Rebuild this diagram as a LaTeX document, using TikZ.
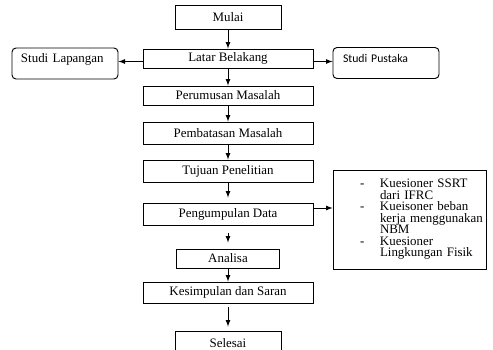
\documentclass[tikz,border=0pt]{standalone}
\usepackage{fontspec}
\setmainfont{Liberation Serif}
\newfontfamily\calib{Carlito}
\usetikzlibrary{arrows}
\newdimen\pxu \pxu=0.75pt
\newcommand{\butir}{\hspace*{25\pxu}\makebox[20\pxu][l]{-}}
\newcommand{\lanjut}{\hspace*{45\pxu}}
\newcommand{\rapat}{\fontsize{9.7pt}{8.6pt}\selectfont\lineskiplimit=-20pt\hyphenpenalty=10000\relax}

\begin{document}
\begin{tikzpicture}[x=0.75pt,y=-0.75pt,>=latex,
   every node/.style={font=\fontsize{9.7pt}{11pt}\selectfont},
   kotak/.style={draw,line width=0.7pt,minimum width=170\pxu,minimum height=22\pxu,inner sep=0pt},
   kecil/.style={kotak,minimum width=106\pxu},
   studi/.style={draw,line width=0.7pt,rounded corners=3pt,minimum width=106\pxu,minimum height=31\pxu,
                 text width=88\pxu,inner xsep=9\pxu,align=left,text depth=10\pxu},
   panah/.style={->,line width=0.7pt}]
   \useasboundingbox (0,0) rectangle (493,350);
   % alur utama
   \node[kecil] (mulai) at (228, 17) [minimum height=24\pxu] {Mulai};
   \node[kotak] (latar) at (228, 58.5) [minimum height=19\pxu] {Latar Belakang};
   \node[kotak] (rumus) at (228, 95.5) [minimum height=19\pxu] {Perumusan Masalah};
   \node[kotak] (batas) at (228,133) {Pembatasan Masalah};
   \node[kotak] (tujuan) at (228,171) {Tujuan Penelitian};
   \node[kotak] (data) at (228,214) {Pengumpulan Data};
   \node[kecil] (analisa) at (228,258.5) [minimum width=103\pxu,minimum height=19\pxu] {Analisa};
   \node[kotak] (simpul) at (228,292.5) [minimum height=21\pxu] {Kesimpulan dan Saran};
   \node[kecil] (selesai) at (228,343) [minimum height=24\pxu] {Selesai};
   % samping
   \node[studi] (lapangan) at (65,63.5) {Studi Lapangan};
   \node[studi] (pustaka) at (386,63) [inner xsep=10\pxu,text width=86\pxu,
      font=\calib\fontsize{8.8pt}{11pt}\selectfont] {Studi Pustaka};
   \node[kotak,minimum width=153\pxu,minimum height=99\pxu,text width=149\pxu,inner xsep=2\pxu,align=left,
      font=\rapat] (daftar) at (409.5,219.5)
      {\butir Kuesioner SSRT\\ \lanjut dari IFRC\\ \butir Kueisoner beban\\ \lanjut kerja menggunakan\\
       \lanjut NBM\\ \butir Kuesioner\\ \lanjut Lingkungan Fisik};
   % panah
   \draw[panah] (mulai) -- (latar);
   \draw[panah] (latar) -- (rumus);
   \draw[panah] (rumus) -- (batas);
   \draw[panah] (batas) -- (tujuan);
   \draw[panah,shorten >=5\pxu] (tujuan) -- (data);
   \draw[panah,shorten <=8\pxu,shorten >=6\pxu] (data) -- (analisa);
   \draw[panah] (analisa) -- (simpul);
   \draw[panah,shorten <=4\pxu,shorten >=4\pxu] (simpul) -- (selesai);
   \draw[panah] ([yshift=-3\pxu]latar.west) -- ([yshift=-3\pxu]latar.west -| lapangan.east);
   \draw[panah] ([yshift=-3\pxu]latar.east) -- ([yshift=-3\pxu]latar.east -| pustaka.west);
   \draw[panah] ([yshift=6\pxu]data.east) -- ([yshift=6\pxu]data.east -| daftar.west);
\end{tikzpicture}
\end{document}
